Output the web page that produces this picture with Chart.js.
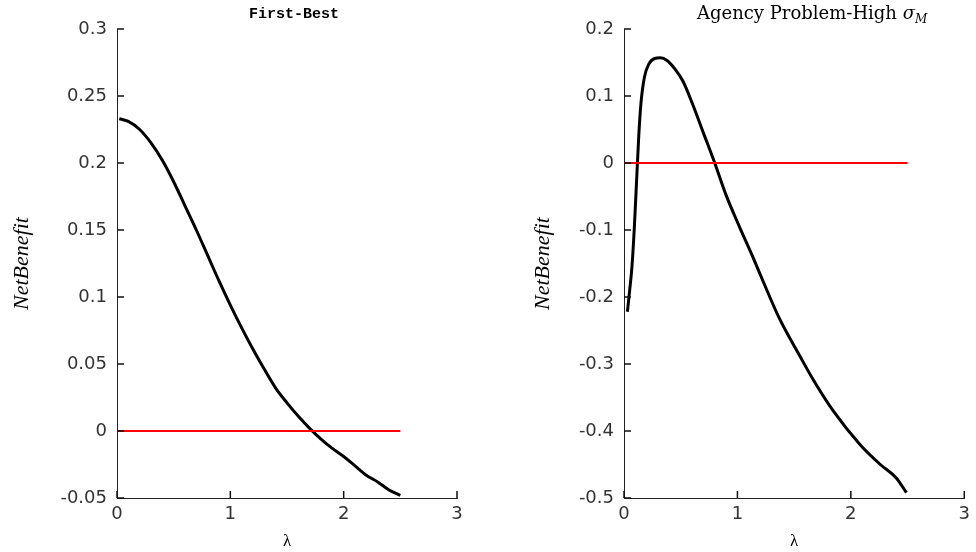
<!DOCTYPE html>
<html><head><meta charset="utf-8">
<script src="https://cdn.jsdelivr.net/npm/chart.js@4.4.1/dist/chart.umd.min.js"></script>
<style>
html,body{margin:0;padding:0;background:#fff;}
#wrap{position:relative;width:976px;height:552px;overflow:hidden;background:#fff;}
#c1{position:absolute;left:0;top:0;}
#c2{position:absolute;left:500px;top:0;}
</style></head><body>
<div id="wrap"><canvas id="c1" width="500" height="552"></canvas><canvas id="c2" width="476" height="552"></canvas></div>
<script>
// ---- data ----
const lambdaFirstBest = [0.02,0.1,0.2,0.3,0.4,0.5,0.6,0.7,0.8,0.9,1.0,1.1,1.2,1.3,1.4,1.5,1.6,1.7,1.8,1.9,2.0,2.1,2.2,2.3,2.4,2.5];
const netBenefitFirstBest = [0.233,0.231,0.225,0.215,0.202,0.186,0.168,0.150,0.131,0.112,0.094,0.077,0.061,0.046,0.032,0.021,0.011,0.002,-0.006,-0.013,-0.019,-0.026,-0.033,-0.038,-0.044,-0.048];

const lambdaAgency = [0.03,0.05,0.07,0.09,0.11,0.13,0.15,0.18,0.22,0.27,0.32,0.38,0.45,0.52,0.60,0.70,0.80,0.90,1.02,1.13,1.23,1.37,1.55,1.67,1.84,2.08,2.26,2.40,2.49];
const netBenefitAgency = [-0.222,-0.19,-0.155,-0.10,-0.03,0.04,0.09,0.128,0.148,0.156,0.157,0.153,0.140,0.122,0.090,0.045,0.0,-0.048,-0.096,-0.138,-0.178,-0.232,-0.288,-0.324,-0.369,-0.420,-0.450,-0.470,-0.492];

const zeroLineX = [0, 2.5];
const zeroLineY = [0, 0];

const xTicks = [0, 1, 2, 3];
const yTicksFirstBest = [-0.05, 0, 0.05, 0.1, 0.15, 0.2, 0.25, 0.3];
const yTicksAgency = [-0.5, -0.4, -0.3, -0.2, -0.1, 0, 0.1, 0.2];

const titleFirstBest = 'First-Best';
const titleAgency = 'Agency Problem-High ';
const xLabel = 'λ';
const yLabel = 'NetBenefit';

// ---- helpers ----
const pts = (xs, ys) => xs.map((x, i) => ({x: x, y: ys[i]}));
const fmt = v => String(parseFloat(Number(v).toFixed(2)));

const titlePlugin = {
  id: 'subplotTitle',
  afterDraw(chart, args, opts) {
    const ctx = chart.ctx, a = chart.chartArea;
    const cx = (a.left + a.right) / 2 + (opts.dx || 0);
    ctx.save();
    ctx.fillStyle = '#000';
    ctx.textBaseline = 'alphabetic';
    ctx.textAlign = 'left';
    let total = 0;
    const widths = opts.parts.map(p => { ctx.font = p.font; const w = ctx.measureText(p.text).width; total += w; return w; });
    let x = cx - total / 2;
    opts.parts.forEach((p, i) => { ctx.font = p.font; ctx.fillText(p.text, x, opts.y + (p.dy || 0)); x += widths[i]; });
    ctx.restore();
  }
};

// inward (MATLAB-style) tick marks, placed through the chart's own scales
const inwardTicks = {
  id: 'inwardTicks',
  afterDraw(chart) {
    const ctx = chart.ctx, a = chart.chartArea;
    const xs = chart.scales.x, ys = chart.scales.y;
    const len = 7;
    ctx.save();
    ctx.strokeStyle = '#111';
    ctx.lineWidth = 1.5;
    ctx.beginPath();
    xTicks.forEach(v => {
      const px = xs.getPixelForValue(v);
      ctx.moveTo(px, a.bottom); ctx.lineTo(px, a.bottom - len);
    });
    ys.ticks.forEach(t => {
      const py = ys.getPixelForValue(t.value);
      ctx.moveTo(a.left, py); ctx.lineTo(a.left + len, py);
    });
    ctx.stroke();
    ctx.restore();
  }
};

function makeChart(id, xs, ys, yTicks, yMin, yMax, cfg) {
  return new Chart(document.getElementById(id), {
    type: 'line',
    data: {
      datasets: [
        { data: pts(zeroLineX, zeroLineY), borderColor: '#ff0000', borderWidth: 2, pointRadius: 0, tension: 0 },
        { data: pts(xs, ys), borderColor: '#000', borderWidth: 3, pointRadius: 0, tension: 0.3, cubicInterpolationMode: 'monotone' }
      ]
    },
    options: {
      responsive: false, animation: false, devicePixelRatio: 1,
      layout: { padding: { top: 29, right: cfg.padRight, left: 0, bottom: 0 } },
      plugins: { legend: { display: false }, tooltip: { enabled: false }, title: { display: false },
        subplotTitle: { parts: cfg.titleParts, y: cfg.titleY, dx: cfg.titleDx } },
      scales: {
        x: {
          type: 'linear', min: 0, max: 3,
          afterBuildTicks: s => { s.ticks = xTicks.map(v => ({ value: v })); },
          afterFit: s => { s.height = 54; },
          ticks: { font: { family: 'DejaVu Sans', size: 18 }, color: '#333', padding: 6, maxRotation: 0, callback: v => fmt(v) },
          grid: { drawOnChartArea: false, drawTicks: false },
          border: { display: true, color: '#222', width: 1 },
          title: { display: true, text: xLabel, font: { family: 'Liberation Serif', size: 17 }, color: '#000', padding: { top: 0, bottom: 0 } }
        },
        y: {
          type: 'linear', min: yMin, max: yMax,
          afterBuildTicks: s => { s.ticks = yTicks.map(v => ({ value: v })); },
          afterFit: s => { s.width = cfg.yWidth; },
          ticks: { font: { family: 'DejaVu Sans', size: 18 }, color: '#333', padding: 10, callback: v => fmt(v) },
          grid: { drawOnChartArea: false, drawTicks: false },
          border: { display: true, color: '#222', width: 1 },
          title: { display: true, text: yLabel, font: { family: 'Liberation Serif', size: 22, style: 'italic' }, color: '#000', padding: { top: cfg.yTitlePad, bottom: 0 } }
        }
      }
    },
    plugins: [titlePlugin, inwardTicks]
  });
}

makeChart('c1', lambdaFirstBest, netBenefitFirstBest, yTicksFirstBest, -0.05, 0.3, {
  padRight: 43, yWidth: 117, yTitlePad: 9, titleY: 18, titleDx: 7,
  titleParts: [{ text: titleFirstBest, font: 'bold 15px "Liberation Mono"' }]
});
makeChart('c2', lambdaAgency, netBenefitAgency, yTicksAgency, -0.5, 0.2, {
  padRight: 4, yWidth: 124, yTitlePad: 30, titleY: 19, titleDx: 18,
  titleParts: [
    { text: titleAgency, font: '18px "DejaVu Serif"' },
    { text: 'σ', font: 'italic 18px "DejaVu Serif"' },
    { text: 'M', font: 'italic 12px "DejaVu Serif"', dy: 4 }
  ]
});
</script>
</body></html>
